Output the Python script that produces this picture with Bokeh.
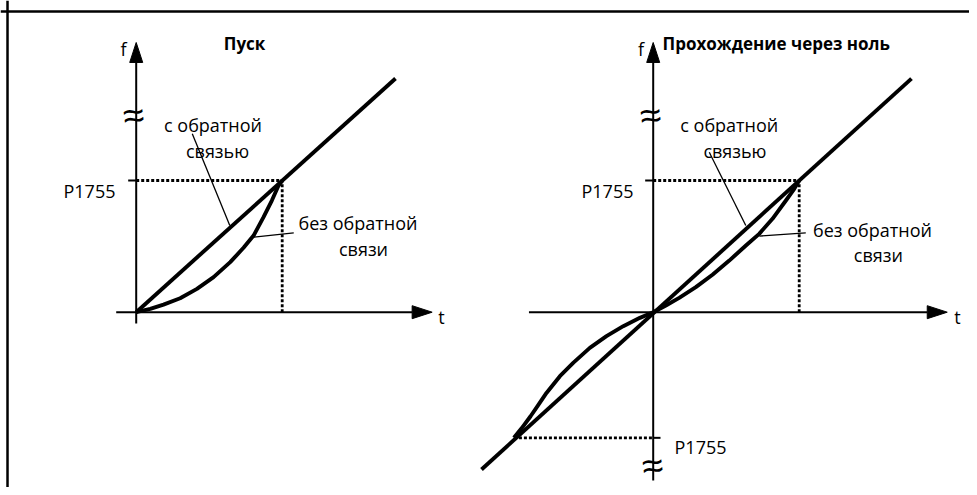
from bokeh.plotting import figure
from bokeh.models import Range1d, Span
from bokeh.core.properties import value
from bokeh.embed import file_html
from bokeh.resources import INLINE

# ---------------- data (t, f in units of the P1755 point) ----------------
P1755_POS = 1.0
P1755_NEG = -0.954
T_P1755 = 1.0

# left panel "Пуск"
line_left_t = [0.0, 1.776]
line_left_f = [0.0, 1.774]
curve_left_t = [0.0, 0.096, 0.187, 0.301, 0.416, 0.530, 0.644, 0.735, 0.804, 0.872, 0.929, 0.975, 1.0]
curve_left_f = [0.0, 0.025, 0.058, 0.106, 0.177, 0.266, 0.380, 0.489, 0.582, 0.722, 0.848, 0.962, 1.0]

# right panel "Прохождение через ноль"
line_right_t = [-1.176, 1.769]
line_right_f = [-1.194, 1.774]
curve_right_t = [-0.954, -0.90, -0.84, -0.79, -0.731, -0.639, -0.548, -0.434, -0.320, -0.205, -0.091, 0.0,
                 0.087, 0.178, 0.292, 0.406, 0.521, 0.635, 0.726, 0.817, 0.909, 0.966, 1.0]
curve_right_f = [-0.954, -0.88, -0.79, -0.71, -0.613, -0.486, -0.385, -0.271, -0.182, -0.106, -0.043, 0.0,
                 0.051, 0.109, 0.190, 0.284, 0.392, 0.506, 0.595, 0.709, 0.848, 0.937, 1.0]

label_p = "P1755"
label_with = ["с обратной", "связью"]
label_without = ["без обратной", "связи"]
title_left = "Пуск"
title_right = "Прохождение через ноль"

# ---------------- figure ----------------
FONT = value("Open Sans")
BLACK = "#000000"

p = figure(width=969, height=487, output_backend="svg", toolbar_location=None,
           x_range=Range1d(-0.9295, 5.7075), y_range=Range1d(-1.3311, 2.3668),
           x_axis_location=None, y_axis_location=None, min_border=0)
p.extra_x_ranges = {"r": Range1d(-4.4705, 2.1664)}
p.grid.visible = False
p.outline_line_color = None
p.background_fill_color = "white"
p.border_fill_color = "white"

# frame (top and left edges)
p.add_layout(Span(location=2.283, dimension="width", line_color=BLACK, line_width=2.5))
p.add_layout(Span(location=-0.8815, dimension="height", line_color=BLACK, line_width=2.5))

HL_T = 20 / 146.0   # arrow head length along t (data units)
HL_F = 20 / 131.7   # arrow head length along f
HW_T = 6.5 / 146.0
HW_F = 6.5 / 131.7


def axes(rn, t0, t1, f0, f1):
    kw = {} if rn is None else {"x_range_name": rn}
    p.line([t0, t1 - HL_T], [0, 0], line_color=BLACK, line_width=2, **kw)
    p.line([0, 0], [f0, f1 - HL_F], line_color=BLACK, line_width=2, **kw)
    p.patches([[t1, t1 - HL_T, t1 - HL_T], [0, -HW_T, HW_T]],
              [[0, HW_F, -HW_F], [f1, f1 - HL_F, f1 - HL_F]],
              fill_color=BLACK, line_color=BLACK, line_width=1, **kw)


axes(None, -0.137, 2.027, -0.086, 2.048)
axes("r", -0.851, 2.014, -1.278, 2.048)

DOT = dict(line_color=BLACK, line_width=2.8, line_dash="3 2")
# left dotted guides
p.line([0, T_P1755], [P1755_POS, P1755_POS], **DOT)
p.line([T_P1755, T_P1755], [0, P1755_POS], **DOT)
p.line([-0.055, 0], [P1755_POS, P1755_POS], line_color=BLACK, line_width=2)
# right dotted guides
p.line([0, T_P1755], [P1755_POS, P1755_POS], x_range_name="r", **DOT)
p.line([T_P1755, T_P1755], [0, P1755_POS], x_range_name="r", **DOT)
p.line([-0.055, 0], [P1755_POS, P1755_POS], x_range_name="r", line_color=BLACK, line_width=2)
p.line([curve_right_t[0], 0], [P1755_NEG, P1755_NEG], x_range_name="r", **DOT)
p.line([0, 0.05], [P1755_NEG, P1755_NEG], x_range_name="r", line_color=BLACK, line_width=2)

# curves
THICK = dict(line_color=BLACK, line_width=3.9, line_join="round")
p.line(line_left_t, line_left_f, **THICK)
p.line(curve_left_t, curve_left_f, **THICK)
p.line(line_right_t, line_right_f, x_range_name="r", **THICK)
p.line(curve_right_t, curve_right_f, x_range_name="r", **THICK)

# leader lines
LEAD = dict(line_color=BLACK, line_width=1.3)
p.segment(x0=[0.384, 1.079], y0=[1.355, 0.603], x1=[0.641, 0.795], y1=[0.658, 0.569], **LEAD)
p.segment(x0=[0.384, 1.045], y0=[1.215, 0.603], x1=[0.634, 0.727], y1=[0.658, 0.578],
          x_range_name="r", **LEAD)

# axis break marks
BRK = dict(text_font=value("Liberation Sans"), text_font_size="38px", text_align="center",
           text_baseline="middle", angle=0.12, text_color=BLACK)
p.text(x=[-0.018], y=[1.494], text=["≈"], **BRK)
p.text(x=[-0.018, -0.005], y=[1.494, -1.164], text=["≈", "≈"], x_range_name="r", **BRK)

TXT = dict(text_font=FONT, text_font_size="18px", text_color=BLACK)
# left panel texts
p.text(x=[0.526, 0.557, 1.519, 1.557], y=[1.425, 1.222, 0.676, 0.478],
       text=label_with + label_without, text_align="center", text_baseline="alphabetic", **TXT)
p.text(x=[-0.142], y=[0.924], text=[label_p], text_align="right", text_baseline="alphabetic", **TXT)
p.text(x=[2.091], y=[-0.040], text=["t"], text_align="center", text_baseline="alphabetic", **TXT)
p.text(x=[-0.087], y=[2.0], text=["f"], text_align="center", text_baseline="middle", **TXT)
p.text(x=[0.742], y=[2.04], text=[title_left], text_align="center", text_baseline="middle",
       text_font=FONT, text_font_size="17px", text_font_style="bold", text_color=BLACK)

# right panel texts
p.text(x=[0.521, 0.560, 1.502, 1.542], y=[1.425, 1.222, 0.626, 0.431],
       text=label_with + label_without, text_align="center", text_baseline="alphabetic",
       x_range_name="r", **TXT)
p.text(x=[-0.135], y=[0.924], text=[label_p], text_align="right", text_baseline="alphabetic",
       x_range_name="r", **TXT)
p.text(x=[0.146], y=[-1.027], text=[label_p], text_align="left", text_baseline="alphabetic",
       x_range_name="r", **TXT)
p.text(x=[2.084], y=[-0.040], text=["t"], text_align="center", text_baseline="alphabetic",
       x_range_name="r", **TXT)
p.text(x=[-0.084], y=[2.0], text=["f"], text_align="center", text_baseline="middle",
       x_range_name="r", **TXT)
p.text(x=[0.064], y=[2.04], text=[title_right], text_align="left", text_baseline="middle",
       x_range_name="r", text_font=FONT, text_font_size="17px", text_font_style="bold",
       text_color=BLACK)

open("out.html", "w").write(file_html(p, INLINE))
